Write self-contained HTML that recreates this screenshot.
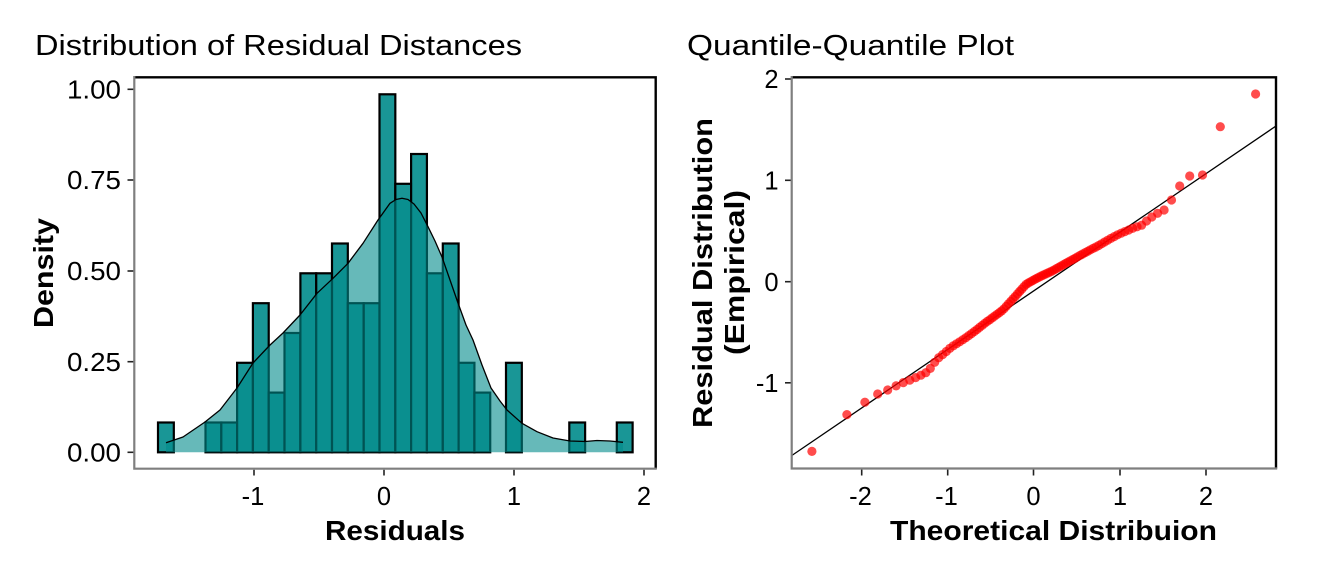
<!DOCTYPE html>
<html><head><meta charset="utf-8"><style>
html,body{margin:0;padding:0;background:#fff;}
svg{display:block;font-family:"Liberation Sans",Arial,sans-serif;}
</style></head><body>
<svg width="1344" height="576" viewBox="0 0 1344 576" xmlns="http://www.w3.org/2000/svg">
<rect width="1344" height="576" fill="#fff"/>
<!-- Titles -->
<text x="35" y="55" font-size="29" textLength="487" lengthAdjust="spacingAndGlyphs">Distribution of Residual Distances</text>
<text x="687" y="55" font-size="29" textLength="327" lengthAdjust="spacingAndGlyphs">Quantile-Quantile Plot</text>

<!-- LEFT PANEL -->
<g>
<g fill="rgba(0,139,139,0.9)" stroke="#000" stroke-width="2.2">
<rect x="158.0" y="422.5" width="15.82" height="29.8"/>
<rect x="205.5" y="422.5" width="15.82" height="29.8"/>
<rect x="221.3" y="422.5" width="15.82" height="29.8"/>
<rect x="237.1" y="362.8" width="15.82" height="89.5"/>
<rect x="252.9" y="303.2" width="15.82" height="149.1"/>
<rect x="268.7" y="392.6" width="15.82" height="59.7"/>
<rect x="284.5" y="333.0" width="15.82" height="119.3"/>
<rect x="300.4" y="273.3" width="15.82" height="179.0"/>
<rect x="316.2" y="273.3" width="15.82" height="179.0"/>
<rect x="332.0" y="243.5" width="15.82" height="208.8"/>
<rect x="347.8" y="303.2" width="15.82" height="149.1"/>
<rect x="363.7" y="303.2" width="15.82" height="149.1"/>
<rect x="379.5" y="94.3" width="15.82" height="358.0"/>
<rect x="395.3" y="183.8" width="15.82" height="268.5"/>
<rect x="411.1" y="154.0" width="15.82" height="298.3"/>
<rect x="426.9" y="273.3" width="15.82" height="179.0"/>
<rect x="442.8" y="243.5" width="15.82" height="208.8"/>
<rect x="458.6" y="362.8" width="15.82" height="89.5"/>
<rect x="474.4" y="392.6" width="15.82" height="59.7"/>
<rect x="506.0" y="362.8" width="15.82" height="89.5"/>
<rect x="569.3" y="422.5" width="15.82" height="29.8"/>
<rect x="616.8" y="422.5" width="15.82" height="29.8"/>
</g>
<path d="M166,442.7 L183,437 L205,422 L220,410 L237,388 L253,363 L270,345 L283,333 L300,315 L317,293.3 L333,278.3 L348,263.3 L363,243.3 L378,220 L390,203.3 L396,199.5 L402,198.3 L408,199.5 L414,204 L421,213 L428,226.7 L435,241 L442,257 L450,280 L458,303 L466,325 L473,340 L482,365 L491,388 L500,401 L507,410 L522,423.3 L537,431.7 L553,438 L570,441 L585,441.5 L597,440.5 L610,441 L623,442.3 L623,452.3 L166,452.3 Z" fill="rgba(0,139,139,0.6)" stroke="none"/>
<path d="M166,442.7 L183,437 L205,422 L220,410 L237,388 L253,363 L270,345 L283,333 L300,315 L317,293.3 L333,278.3 L348,263.3 L363,243.3 L378,220 L390,203.3 L396,199.5 L402,198.3 L408,199.5 L414,204 L421,213 L428,226.7 L435,241 L442,257 L450,280 L458,303 L466,325 L473,340 L482,365 L491,388 L500,401 L507,410 L522,423.3 L537,431.7 L553,438 L570,441 L585,441.5 L597,440.5 L610,441 L623,442.3" fill="none" stroke="#000" stroke-width="1.3" stroke-linejoin="round"/>
<!-- border -->
<path d="M134.3,77.3 L655.7,77.3 L655.7,468.7" fill="none" stroke="#000" stroke-width="2.4"/>
<path d="M134.3,76 L134.3,468.7 L656.8,468.7" fill="none" stroke="#7f7f7f" stroke-width="2.2"/>
<!-- ticks -->
<g stroke="#222" stroke-width="1.6">
<line x1="127.5" y1="89.3" x2="133.3" y2="89.3"/>
<line x1="127.5" y1="180" x2="133.3" y2="180"/>
<line x1="127.5" y1="271" x2="133.3" y2="271"/>
<line x1="127.5" y1="361.7" x2="133.3" y2="361.7"/>
<line x1="127.5" y1="452.3" x2="133.3" y2="452.3"/>
<line x1="254" y1="469.8" x2="254" y2="475.5"/>
<line x1="384" y1="469.8" x2="384" y2="475.5"/>
<line x1="514" y1="469.8" x2="514" y2="475.5"/>
<line x1="644" y1="469.8" x2="644" y2="475.5"/>
</g>
<g font-size="25.5" text-anchor="end" fill="#000">
<text x="121" y="98.4" textLength="54" lengthAdjust="spacingAndGlyphs">1.00</text>
<text x="121" y="189.2" textLength="54" lengthAdjust="spacingAndGlyphs">0.75</text>
<text x="121" y="280.2" textLength="54" lengthAdjust="spacingAndGlyphs">0.50</text>
<text x="121" y="370.8" textLength="54" lengthAdjust="spacingAndGlyphs">0.25</text>
<text x="121" y="461.4" textLength="54" lengthAdjust="spacingAndGlyphs">0.00</text>
</g>
<g font-size="25.5" text-anchor="middle" fill="#000">
<text x="253" y="505">-1</text>
<text x="384" y="505">0</text>
<text x="514" y="505">1</text>
<text x="644" y="505">2</text>
</g>
<text x="325" y="540" font-size="28" font-weight="bold" textLength="140" lengthAdjust="spacingAndGlyphs">Residuals</text>
<text transform="translate(53,328) rotate(-90)" font-size="28" font-weight="bold" textLength="110" lengthAdjust="spacingAndGlyphs">Density</text>
</g>

<!-- RIGHT PANEL -->
<g>
<line x1="792" y1="455.4" x2="1276" y2="126" stroke="#000" stroke-width="1.3"/>
<g fill="rgba(255,0,0,0.7)">
<circle cx="811.9" cy="451.4" r="4.6"/><circle cx="846.9" cy="414.6" r="4.6"/><circle cx="864.9" cy="402.2" r="4.6"/>
<circle cx="877.7" cy="394.0" r="4.6"/><circle cx="887.7" cy="390.0" r="4.6"/><circle cx="896.1" cy="385.9" r="4.6"/>
<circle cx="903.3" cy="382.6" r="4.6"/><circle cx="909.8" cy="380.1" r="4.6"/><circle cx="915.6" cy="377.6" r="4.6"/>
<circle cx="920.9" cy="375.2" r="4.6"/><circle cx="925.8" cy="372.7" r="4.6"/><circle cx="930.3" cy="368.4" r="4.6"/>
<circle cx="934.7" cy="362.3" r="4.6"/><circle cx="938.7" cy="357.7" r="4.6"/><circle cx="942.6" cy="354.6" r="4.6"/>
<circle cx="946.3" cy="351.5" r="4.6"/><circle cx="949.8" cy="348.4" r="4.6"/><circle cx="953.2" cy="345.9" r="4.6"/>
<circle cx="956.5" cy="343.8" r="4.6"/><circle cx="959.7" cy="341.8" r="4.6"/><circle cx="962.8" cy="339.7" r="4.6"/>
<circle cx="965.8" cy="337.7" r="4.6"/><circle cx="968.7" cy="335.6" r="4.6"/><circle cx="971.5" cy="333.6" r="4.6"/>
<circle cx="974.3" cy="331.5" r="4.6"/><circle cx="977.0" cy="329.5" r="4.6"/><circle cx="979.6" cy="327.4" r="4.6"/>
<circle cx="982.2" cy="325.4" r="4.6"/><circle cx="984.8" cy="323.3" r="4.6"/><circle cx="987.3" cy="321.4" r="4.6"/>
<circle cx="989.8" cy="319.7" r="4.6"/><circle cx="992.2" cy="317.9" r="4.6"/><circle cx="994.6" cy="316.1" r="4.6"/>
<circle cx="997.0" cy="314.4" r="4.6"/><circle cx="999.4" cy="312.6" r="4.6"/><circle cx="1001.7" cy="310.9" r="4.6"/>
<circle cx="1004.0" cy="308.8" r="4.6"/><circle cx="1006.3" cy="306.3" r="4.6"/><circle cx="1008.5" cy="303.8" r="4.6"/>
<circle cx="1010.8" cy="301.4" r="4.6"/><circle cx="1013.0" cy="298.9" r="4.6"/><circle cx="1015.2" cy="296.5" r="4.6"/>
<circle cx="1017.4" cy="294.0" r="4.6"/><circle cx="1019.6" cy="291.5" r="4.6"/><circle cx="1021.8" cy="289.1" r="4.6"/>
<circle cx="1024.0" cy="286.6" r="4.6"/><circle cx="1026.1" cy="284.4" r="4.6"/><circle cx="1028.3" cy="283.0" r="4.6"/>
<circle cx="1030.5" cy="281.8" r="4.6"/><circle cx="1032.6" cy="280.6" r="4.6"/><circle cx="1034.8" cy="279.4" r="4.6"/>
<circle cx="1036.9" cy="278.2" r="4.6"/><circle cx="1039.1" cy="277.1" r="4.6"/><circle cx="1041.3" cy="276.0" r="4.6"/>
<circle cx="1043.4" cy="275.0" r="4.6"/><circle cx="1045.6" cy="274.0" r="4.6"/><circle cx="1047.8" cy="273.0" r="4.6"/>
<circle cx="1050.0" cy="272.0" r="4.6"/><circle cx="1052.2" cy="271.0" r="4.6"/><circle cx="1054.4" cy="269.8" r="4.6"/>
<circle cx="1056.6" cy="268.5" r="4.6"/><circle cx="1058.9" cy="267.2" r="4.6"/><circle cx="1061.1" cy="266.0" r="4.6"/>
<circle cx="1063.4" cy="264.7" r="4.6"/><circle cx="1065.7" cy="263.4" r="4.6"/><circle cx="1068.0" cy="262.1" r="4.6"/>
<circle cx="1070.4" cy="260.8" r="4.6"/><circle cx="1072.8" cy="259.5" r="4.6"/><circle cx="1075.2" cy="258.2" r="4.6"/>
<circle cx="1077.6" cy="256.8" r="4.6"/><circle cx="1080.1" cy="255.4" r="4.6"/><circle cx="1082.6" cy="254.0" r="4.6"/>
<circle cx="1085.2" cy="252.6" r="4.6"/><circle cx="1087.8" cy="251.2" r="4.6"/><circle cx="1090.4" cy="249.8" r="4.6"/>
<circle cx="1093.1" cy="248.4" r="4.6"/><circle cx="1095.9" cy="247.0" r="4.6"/><circle cx="1098.7" cy="245.5" r="4.6"/>
<circle cx="1101.6" cy="243.8" r="4.6"/><circle cx="1104.6" cy="242.0" r="4.6"/><circle cx="1107.7" cy="240.2" r="4.6"/>
<circle cx="1110.9" cy="238.4" r="4.6"/><circle cx="1114.2" cy="236.6" r="4.6"/><circle cx="1117.6" cy="234.8" r="4.6"/>
<circle cx="1121.1" cy="233.2" r="4.6"/><circle cx="1124.8" cy="231.6" r="4.6"/><circle cx="1128.7" cy="230.0" r="4.6"/>
<circle cx="1132.7" cy="228.3" r="4.6"/><circle cx="1137.0" cy="226.8" r="4.6"/><circle cx="1141.6" cy="225.2" r="4.6"/>
<circle cx="1146.5" cy="221.0" r="4.6"/><circle cx="1151.8" cy="217.0" r="4.6"/><circle cx="1157.6" cy="213.3" r="4.6"/>
<circle cx="1164.1" cy="210.0" r="4.6"/><circle cx="1171.5" cy="200.0" r="4.6"/><circle cx="1179.7" cy="186.0" r="4.6"/>
<circle cx="1189.7" cy="176.0" r="4.6"/><circle cx="1202.5" cy="175.0" r="4.6"/><circle cx="1220.3" cy="126.7" r="4.6"/>
<circle cx="1255.6" cy="94.0" r="4.6"/>
</g>
<path d="M791.7,77.3 L1276,77.3 L1276,468.5" fill="none" stroke="#000" stroke-width="2.4"/>
<path d="M791.7,76 L791.7,468.5 L1277.2,468.5" fill="none" stroke="#7f7f7f" stroke-width="2.2"/>
<g stroke="#222" stroke-width="1.6">
<line x1="785" y1="79" x2="790.7" y2="79"/>
<line x1="785" y1="180.3" x2="790.7" y2="180.3"/>
<line x1="785" y1="281.7" x2="790.7" y2="281.7"/>
<line x1="785" y1="382.8" x2="790.7" y2="382.8"/>
<line x1="861.7" y1="469.6" x2="861.7" y2="475.5"/>
<line x1="947.7" y1="469.6" x2="947.7" y2="475.5"/>
<line x1="1033.5" y1="469.6" x2="1033.5" y2="475.5"/>
<line x1="1120" y1="469.6" x2="1120" y2="475.5"/>
<line x1="1206" y1="469.6" x2="1206" y2="475.5"/>
</g>
<g font-size="25.5" text-anchor="end" fill="#000">
<text x="778.5" y="88.2">2</text>
<text x="778.5" y="189.5">1</text>
<text x="778.5" y="290.9">0</text>
<text x="778.5" y="392">-1</text>
</g>
<g font-size="25.5" text-anchor="middle" fill="#000">
<text x="860.5" y="505">-2</text>
<text x="946.5" y="505">-1</text>
<text x="1033.5" y="505">0</text>
<text x="1120" y="505">1</text>
<text x="1206" y="505">2</text>
</g>
<text x="890" y="540" font-size="28" font-weight="bold" textLength="327" lengthAdjust="spacingAndGlyphs">Theoretical Distribuion</text>
<text transform="translate(712,428) rotate(-90)" font-size="28" font-weight="bold" textLength="310" lengthAdjust="spacingAndGlyphs">Residual Distribution</text>
<text transform="translate(744,355) rotate(-90)" font-size="28" font-weight="bold" textLength="165" lengthAdjust="spacingAndGlyphs">(Empirical)</text>
</g>
</svg>
</body></html>
